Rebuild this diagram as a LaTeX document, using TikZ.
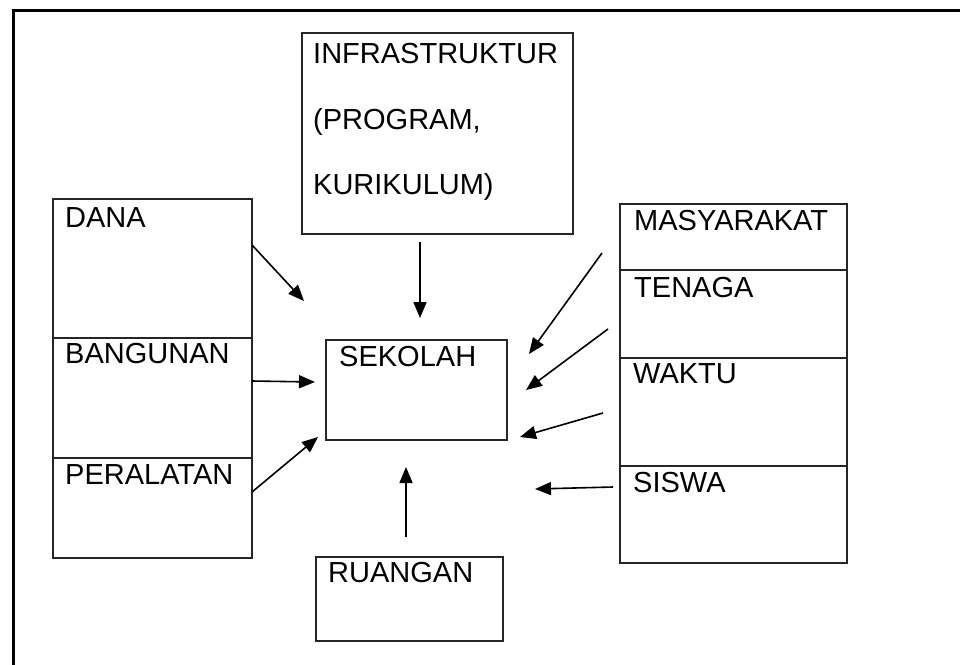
\documentclass[tikz,border=0pt]{standalone}
\usepackage{fontspec}
\setmainfont{Liberation Sans}
\usetikzlibrary{arrows.meta}
\begin{document}
\begin{tikzpicture}[x=1pt,y=-1pt,
  box/.style={draw=black!85, line width=1.5pt, rectangle, inner sep=0pt, anchor=north west, fill=none},
  lbl/.style={inner sep=0pt, anchor=base west, font=\fontsize{29}{34}\selectfont, text=black},
  arr/.style={line width=1.6pt, -{Triangle[length=16pt,width=13pt]}},
  frame/.style={line width=3pt, black}]
\useasboundingbox (0,0) rectangle (960,664);
\clip (0,0) rectangle (960,664);
\fill[white] (0,0) rectangle (960,664);
% outer frame (cropped at right and bottom)
\coordinate (fbl) at (13,700);
\coordinate (ftl) at (13,10);
\coordinate (ftr) at (1000,10);
\draw[frame] (fbl) -- (ftl) -- (ftr);
% boxes
\node[box, minimum width=271pt, minimum height=201pt] (infra) at (301,32) {};
\node[box, minimum width=199pt, minimum height=139pt] (dana) at (52,198) {};
\node[box, minimum width=199pt, minimum height=120pt] (bangunan) at (52,337) {};
\node[box, minimum width=199pt, minimum height=100pt] (peralatan) at (52,457) {};
\node[box, minimum width=181pt, minimum height=100pt] (sekolah) at (325,339) {};
\node[box, minimum width=187pt, minimum height=84pt] (ruangan) at (315,556) {};
\node[box, minimum width=227pt, minimum height=66pt] (masyarakat) at (619,203) {};
\node[box, minimum width=227pt, minimum height=88pt] (tenaga) at (619,269) {};
\node[box, minimum width=227pt, minimum height=108pt] (waktu) at (619,357) {};
\node[box, minimum width=227pt, minimum height=97pt] (siswa) at (619,465) {};
% labels
\node[lbl] (tinfra1) at (313,63) {INFRASTRUKTUR};
\node[lbl] (tinfra2) at (313,129) {(PROGRAM,};
\node[lbl] (tinfra3) at (313,194) {KURIKULUM)};
\node[lbl] (tdana) at (65,227) {DANA};
\node[lbl] (tbangunan) at (65,363) {BANGUNAN};
\node[lbl] (tperalatan) at (65,484) {PERALATAN};
\node[lbl] (tsekolah) at (339,366) {SEKOLAH};
\node[lbl] (truangan) at (328,582) {RUANGAN};
\node[lbl] (tmasy) at (634,230) {MASYARAKAT};
\node[lbl] (ttenaga) at (634,297) {TENAGA};
\node[lbl] (twaktu) at (633,383) {WAKTU};
\node[lbl] (tsiswa) at (633,492) {SISWA};
% arrow end points
\coordinate (dana-s) at (252,245);   \coordinate (dana-e) at (304,301);
\coordinate (infra-s) at (420,242);  \coordinate (infra-e) at (420,318);
\coordinate (bang-s) at (252,381);   \coordinate (bang-e) at (315,382);
\coordinate (per-s) at (252,492);    \coordinate (per-e) at (318,437);
\coordinate (masy-s) at (602,253);   \coordinate (masy-e) at (529,354);
\coordinate (ten-s) at (608,329);    \coordinate (ten-e) at (526,390);
\coordinate (wak-s) at (603,413);    \coordinate (wak-e) at (520,437);
\coordinate (sis-s) at (613,487);    \coordinate (sis-e) at (535,489);
\coordinate (ru-s) at (406,537);     \coordinate (ru-e) at (406,467);
% arrows
\draw[arr] (dana-s) -- (dana-e);
\draw[arr] (infra-s) -- (infra-e);
\draw[arr] (bang-s) -- (bang-e);
\draw[arr] (per-s) -- (per-e);
\draw[arr] (masy-s) -- (masy-e);
\draw[arr] (ten-s) -- (ten-e);
\draw[arr] (wak-s) -- (wak-e);
\draw[arr] (sis-s) -- (sis-e);
\draw[arr] (ru-s) -- (ru-e);
\end{tikzpicture}
\end{document}
